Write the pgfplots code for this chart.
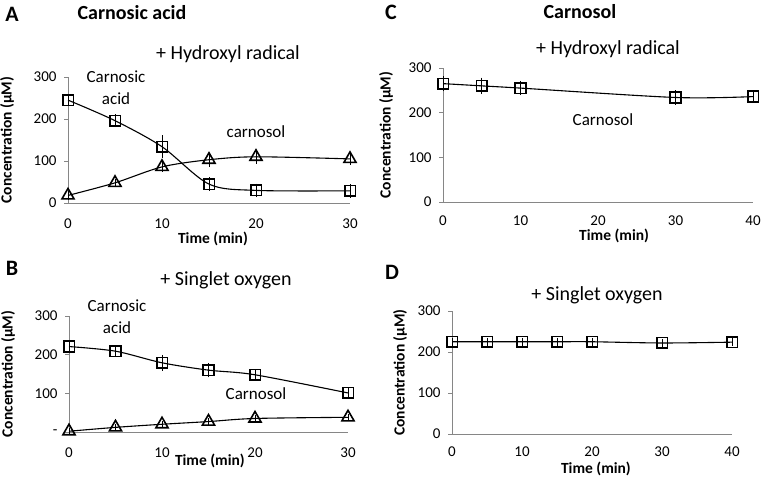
\documentclass[border=0pt]{standalone}
\usepackage{pgfplots}
\pgfplotsset{compat=1.18}
\usepackage{pgfplotstable}
\usepackage{fontspec}
\setmainfont{Carlito}
\definecolor{axgray}{HTML}{868686}
\pgfplotstableread{
x y e
0 245 5
5 196 8
10 134 20
15 45 9
20 30 9
30 29 9
}\Asq
\pgfplotstableread{
x y e
0 18 3
5 48 3
10 86 5
15 103 10
20 110 10
30 105 7
}\Atri
\pgfplotstableread{
x y e
0 221 6
5 209 6
10 179 13
15 160 11
20 148 6
30 101 6
}\Bsq
\pgfplotstableread{
x y e
0 2 1
5 12 1
10 20 1
15 27 1
20 35 1
30 38 1
}\Btri
\pgfplotstableread{
x y e
0 265 10
5 260 12
10 255 9
30 234 9
40 236 6
}\Csq
\pgfplotstableread{
x y e
0 225 2
5 225 2
10 225 2
15 225 2
20 225 2
30 222 2
40 224 2
}\Dsq
\pgfplotsset{
  panel/.style={
    scale only axis,
    axis x line*=bottom, axis y line*=left,
    axis line style={draw=axgray, line width=0.9pt},
    xmin=0, ymin=0, ymax=300,
    ytick={0,100,200,300},
    tick align=outside,
    major tick length=4pt,
    ytick style={draw=axgray, line width=0.9pt},
    xtick style={draw=none},
    tick label style={font=\fontsize{15}{15}\selectfont, text=black},
    yticklabel style={xshift=-4pt},
    /pgf/number format/assume math mode=true,
    label style={font=\fontsize{15.5}{16}\selectfont\bfseries},
    clip=false,
  },
  sq/.style={black, line width=1.1pt, mark=square, mark size=5.3pt, mark options={solid, line width=1.6pt}},
  tri/.style={black, line width=1.1pt, mark=triangle, mark size=7pt, mark options={solid, line width=1.6pt}},
  eb/.style={error bars/.cd, y dir=both, y explicit, error bar style={line width=0.8pt, black}, error mark options={mark size=3pt, line width=0.8pt, black}},
}
\newcommand{\ttl}{\fontsize{20}{22}\selectfont}
\newcommand{\ann}{\fontsize{17}{22}\selectfont}
\begin{document}
\begin{tikzpicture}[x=1pt,y=1pt]
\useasboundingbox (0,0) rectangle (762,477);
% Panel A
\begin{axis}[panel, at={(68pt,274pt)}, anchor=south west, width=282pt, height=126pt,
  xmax=30, xtick={0,10,20,30}, xticklabel style={yshift=-8pt},
  xlabel={Time (min)}, ylabel={Concentration (µM)},
  xlabel style={at={(axis description cs:0.514,-0.282)}, anchor=center},
  ylabel style={at={(axis description cs:-0.2163,0.5)}, anchor=center}]
\addplot[sq, smooth, eb] table[x=x, y=y, y error=e] {\Asq};
\addplot[tri, smooth, eb] table[x=x, y=y, y error=e] {\Atri};
\end{axis}
% Panel B
\begin{axis}[panel, at={(69pt,45pt)}, anchor=south west, width=279pt, height=116pt,
  xmax=30, xtick={0,10,20,30}, yticklabels={-,100,200,300}, xticklabel style={yshift=-8pt},
  xlabel={Time (min)}, ylabel={Concentration (µM)},
  xlabel style={at={(axis description cs:0.505,-0.245)}, anchor=center},
  ylabel style={at={(axis description cs:-0.2186,0.5)}, anchor=center}]
\addplot[sq, smooth, eb] table[x=x, y=y, y error=e] {\Bsq};
\addplot[tri, smooth, eb] table[x=x, y=y, y error=e] {\Btri};
\end{axis}
% Panel C
\begin{axis}[panel, at={(443pt,275pt)}, anchor=south west, width=310pt, height=134pt,
  xmax=40, xtick={0,10,20,30,40}, xticklabel style={yshift=-6pt},
  xlabel={Time (min)}, ylabel={Concentration (µM)},
  xlabel style={at={(axis description cs:0.552,-0.250)}, anchor=center},
  ylabel style={at={(axis description cs:-0.1839,0.5)}, anchor=center}]
\addplot[sq, smooth, eb] table[x=x, y=y, y error=e] {\Csq};
\end{axis}
% Panel D
\begin{axis}[panel, at={(452pt,43pt)}, anchor=south west, width=280pt, height=123pt,
  xmax=40, xtick={0,10,20,30,40}, xticklabel style={yshift=-5pt},
  xlabel={Time (min)}, ylabel={Concentration (µM)},
  xlabel style={at={(axis description cs:0.514,-0.280)}, anchor=center},
  ylabel style={at={(axis description cs:-0.1857,0.5)}, anchor=center}]
\addplot[sq, smooth, eb] table[x=x, y=y, y error=e] {\Dsq};
\end{axis}
% Titles and annotations
\node[font=\fontsize{22}{24}\selectfont\bfseries] at (12,477-14) {A};
\node[font=\ttl\bfseries] at (132,477-13) {Carnosic acid};
\node[font=\ttl] at (228,477-54) {+ Hydroxyl radical};
\node[font=\ann, align=center] at (116,477-88) {Carnosic\\acid};
\node[font=\ann] at (256,477-132) {carnosol};
\node[font=\fontsize{22}{24}\selectfont\bfseries] at (12,477-268) {B};
\node[font=\ttl] at (226,477-280) {+ Singlet oxygen};
\node[font=\ann, align=center] at (117,477-317) {Carnosic\\acid};
\node[font=\ann] at (256,477-394) {Carnosol};
\node[font=\fontsize{22}{24}\selectfont\bfseries] at (391,477-12) {C};
\node[font=\ttl\bfseries] at (580,477-12) {Carnosol};
\node[font=\ttl] at (608,477-49) {+ Hydroxyl radical};
\node[font=\ann] at (603,477-120) {Carnosol};
\node[font=\fontsize{22}{24}\selectfont\bfseries] at (392,477-272) {D};
\node[font=\ttl] at (597,477-295) {+ Singlet oxygen};
\end{tikzpicture}
\end{document}
